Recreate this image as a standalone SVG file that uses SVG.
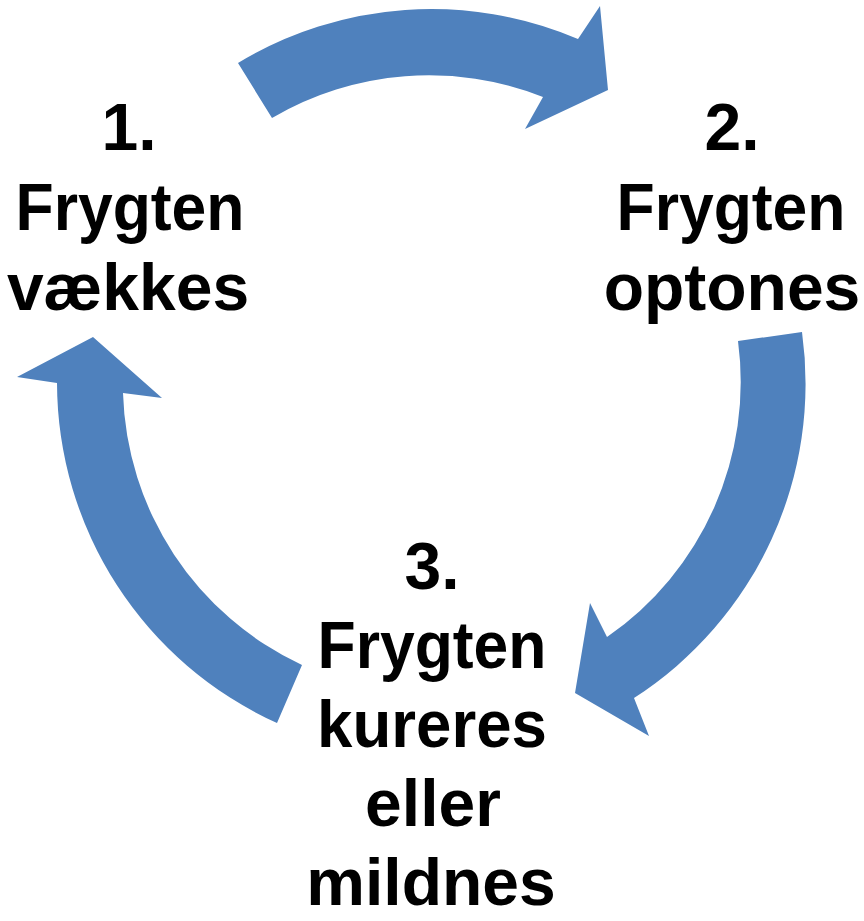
<svg xmlns="http://www.w3.org/2000/svg" width="864" height="921" viewBox="0 0 864 921">
<style>
.arrow{fill:#4F81BD;stroke:none}
.lbl{font-family:"Liberation Sans",Arial,sans-serif;font-weight:bold;font-size:66px;fill:#000;text-anchor:middle}
</style>
<rect width="864" height="921" fill="#fff"/>
<g id="connectors">
<path id="arrow-1-2" class="arrow" d="M 238 63 A 374 374 0 0 1 578 39 L 600 6 L 608 90 L 525 129 L 543 97 A 310 310 0 0 0 272 118 Z"/>
<path id="arrow-2-3" class="arrow" d="M 802 332 A 374 374 0 0 1 634 698 L 649 736 L 575 693 L 590 603 L 607 637 A 310 310 0 0 0 738 341 Z"/>
<path id="arrow-3-1" class="arrow" d="M 277 723 A 374 374 0 0 1 57 383 L 17 377 L 93 337 L 162 398 L 123 393 A 310 310 0 0 0 302 665 Z"/>
</g>
<g id="node1">
<text class="lbl" x="129" y="150">1.</text>
<text class="lbl" x="130" y="230" textLength="229" lengthAdjust="spacingAndGlyphs">Frygten</text>
<text class="lbl" x="128" y="310">vækkes</text>
</g>
<g id="node2">
<text class="lbl" x="732" y="150">2.</text>
<text class="lbl" x="731" y="230" textLength="229" lengthAdjust="spacingAndGlyphs">Frygten</text>
<text class="lbl" x="732" y="310">optones</text>
</g>
<g id="node3">
<text class="lbl" x="432" y="589">3.</text>
<text class="lbl" x="432" y="668" textLength="229" lengthAdjust="spacingAndGlyphs">Frygten</text>
<text class="lbl" x="432" y="747" textLength="230" lengthAdjust="spacingAndGlyphs">kureres</text>
<text class="lbl" x="433" y="826">eller</text>
<text class="lbl" x="431" y="905">mildnes</text>
</g>
</svg>
